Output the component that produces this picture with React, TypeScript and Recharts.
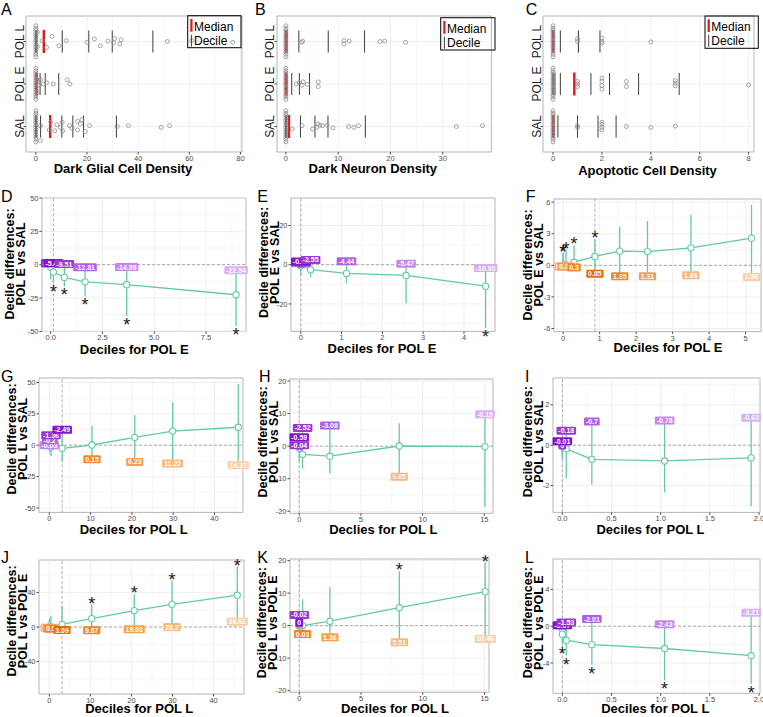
import React from "react";
import {
  ComposedChart,
  ScatterChart,
  Scatter,
  XAxis,
  YAxis,
  ReferenceLine,
  ReferenceArea,
  ErrorBar
} from "recharts";

const FONT = '"Liberation Sans", Arial, Helvetica, sans-serif';
const TEAL = "#64caa6";
const GRID = "#ebebeb";
const BORDER = "#b5b5b5";
const TICK = "#4d4d4d";
const RED = "#e3151b";
const PURPLES = ["#8414c9", "#9a38d6", "#b061e1", "#c588ea", "#d9aef2"];
const ORANGES = ["#e7690b", "#ef862b", "#f4a052", "#f7b87c", "#f9cfa6"];

// ---------- top row: raw densities, points are [value, vertical jitter] ----------
const GROUPS = ["SAL", "POL E", "POL L"];
const ZERO_JIT = [0.37, 0.31, 0.26, 0.2, 0.14, 0.09, 0.03, -0.02, -0.08, -0.13, -0.19, -0.25, -0.3, -0.36];

const glialPolL = [[0.6, 0.22], [0.6, -0.12], [2.5, 0.02], [4.2, -0.14], [6.3, 0.12], [9, -0.1], [11.9, 0.02], [20, -0.02], [22.9, 0.06], [25.2, -0.1], [28.2, 0.01], [30.4, -0.03], [30.8, 0.07], [32.8, -0.06], [33.3, 0.04], [51.4, 0], [61, 0.02], [77, -0.02]];
const glialPolE = [[0.5, 0.1], [0.6, -0.2], [1.3, -0.03], [1.8, 0.1], [2.9, 0], [4.2, 0.03], [6.8, 0], [12.3, 0.1], [13.3, 0]];
const glialSal = [[1.8, 0.02], [1.8, -0.33], [5.2, -0.08], [5.8, 0.1], [7.4, -0.1], [8.2, 0.04], [9.6, -0.02], [10.3, 0.1], [10.5, -0.1], [13.2, 0.02], [14.1, -0.04], [16.3, 0.12], [16.3, -0.08], [17.4, 0.06], [18, 0.16], [19.3, -0.12], [21, 0.02], [31.8, 0], [36.2, 0.02], [49, -0.02], [52.3, 0.02]];

const neuronPolL = [[3.0, -0.02], [3.2, 0.01], [11.1, 0.02], [11.1, -0.06], [12.1, 0.01], [18, 0], [18.9, 0.01], [22.9, -0.02]];
const neuronPolE = [[2.0, 0], [2.55, 0.03], [3.1, -0.03], [3.3, 0.05], [4.1, -0.01], [6.2, 0.05], [6.2, -0.06]];
const neuronSal = [[1.2, -0.06], [3.1, 0.02], [5.1, -0.06], [5.9, -0.02], [6.1, 0.06], [6.5, 0.03], [7.0, 0.02], [7.9, 0.03], [9.0, -0.03], [12.0, 0], [13.0, -0.02], [13.9, 0.02], [32.6, 0], [37.6, 0.02]];

const apoPolL = [[1, 0], [1, 0.06], [2, 0.08], [2, 0], [2, -0.04], [4, -0.01]];
const apoPolE = [[1, 0.06], [1, 0], [1, -0.06], [2, 0.14], [2, 0.06], [2, -0.04], [2, -0.12], [3, 0.06], [3, -0.06], [5, 0.08], [5, 0.02], [5, -0.04], [8, -0.02]];
const apoSal = [[1, 0.02], [1, -0.02], [2, 0.1], [2, 0.05], [2, -0.02], [2, -0.08], [3, 0], [4, -0.02], [5, 0.01]];

// deciles 1..9 per group
const glialDecPolL = [0, 0, 0.1, 0.4, 3.11, 10.33, 20.69, 29.87, 45.76];
const glialDecPolE = [0, 0, 0, 0, 0.13, 0.66, 1.66, 3.67, 8.95];
const glialDecSal = [0, 0.02, 0.2, 1.86, 5.6, 10.17, 14.47, 18.65, 31.49];
const neuronDecPolL = [0, 0, 0, 0, 0, 0.27, 2.48, 8.1, 15.05];
const neuronDecPolE = [0, 0, 0, 0, 0, 0.24, 1.12, 2.58, 4.53];
const neuronDecSal = [0, 0, 0, 0.04, 0.59, 2.79, 5.56, 8.05, 15.2];
const apoDecPolL = [0, 0, 0, 0, 0, 0.04, 0.3, 1.04, 1.92];
const apoDecPolE = [0, 0, 0.08, 0.3, 0.87, 1.55, 2.31, 3.5, 5.16];
const apoDecSal = [0, 0, 0, 0, 0.02, 0.2, 1.0, 1.84, 2.58];

// ---------- decile differences with CI (lo, hi) and significance ----------
const glialEvSDiff = [0, -0.02, -0.2, -1.86, -5.47, -9.51, -12.81, -14.98, -22.54];
const glialEvSLo = [-1, -1.5, -3, -11, -13.5, -16.2, -23.7, -38.7, -46.2];
const glialEvSHi = [0.8, 0.8, 1.0, 1.2, 1.2, 0.5, -2, -1.8, -4.2];
const glialEvSSig = [0, 0, 0, 0, 1, 1, 1, 1, 1];

const neuronEvSDiff = [0, 0, 0, -0.04, -0.59, -2.55, -4.44, -5.47, -10.93];
const neuronEvSLo = [-0.5, -0.5, -1, -3, -5.4, -6.4, -9.5, -19.7, -32.3];
const neuronEvSHi = [0.3, 0.3, 0.5, 1.0, 1.6, 2.4, 1.7, 0.5, -1.7];
const neuronEvSSig = [0, 0, 0, 0, 0, 0, 0, 0, 1];

const apoEvSDiff = [0.01, 0.02, 0.04, 0.3, 0.85, 1.35, 1.31, 1.66, 2.58];
const apoEvSLo = [-0.1, -0.1, -0.1, -0.2, -0.8, -1.04, -1.04, -0.95, -1.1];
const apoEvSHi = [1.2, 1.2, 1.5, 1.9, 2.46, 3.7, 4.2, 4.8, 5.75];
const apoEvSSig = [1, 1, 1, 1, 1, 0, 0, 0, 0];

const glialLvSDiff = [0, -0.03, -0.2, -1.36, -2.49, 0.15, 6.23, 11.22, 14.27];
const glialLvSLo = [-1, -3, -6, -8.8, -12.5, -11.1, -13.3, -14.6, -15.9];
const glialLvSHi = [0, 0, 4, 8, 12.2, 15.4, 23.9, 34, 48.6];
const glialLvSSig = [0, 0, 0, 0, 0, 0, 0, 0, 0];

const neuronLvSDiff = [0, 0, 0, -0.04, -0.59, -2.52, -3.08, 0.05, -0.15];
const neuronLvSLo = [-0.5, -0.5, -1, -2, -4.5, -6.9, -8.4, -9.4, -18.7];
const neuronLvSHi = [0.1, 0.1, 0.2, 0.3, 2.7, 5.6, 6.3, 7, 9.8];
const neuronLvSSig = [0, 0, 0, 0, 0, 0, 0, 0, 0];

const apoLvSDiff = [0, 0, 0, 0, -0.01, -0.18, -0.7, -0.78, -0.63];
const apoLvSLo = [-0.2, -0.2, -0.3, -0.5, -0.7, -1.63, -1.96, -2.34, -3.03];
const apoLvSHi = [0, 0, 0, 0, 0.2, 0.72, 1.17, 1.22, 1.36];
const apoLvSSig = [0, 0, 0, 0, 0, 0, 0, 0, 0];

const glialLvEDiff = [0.01, 0.02, 0.1, 0.5, 3.09, 9.67, 19.03, 26.2, 36.81];
const glialLvELo = [-1, -1, -1.5, -2, -3.5, -3.8, -2.7, 0, 6.1];
const glialLvEHi = [5, 8, 10, 13, 24.4, 26, 37.8, 53.7, 69.6];
const glialLvESig = [0, 0, 0, 0, 0, 1, 1, 1, 1];

const neuronLvEDiff = [0, 0, 0, -0.02, 0, 0.03, 1.36, 5.51, 10.46];
const neuronLvELo = [-0.5, -0.5, -1, -1, -1.5, -2.6, -3.6, -5.1, -4.1];
const neuronLvEHi = [0.5, 0.5, 0.8, 3.3, 1, 8.1, 11.8, 16.7, 19.4];
const neuronLvESig = [0, 0, 0, 0, 0, 0, 0, 1, 1];

const apoLvEDiff = [0, 0, 0, -0.3, -0.87, -1.53, -2.01, -2.43, -3.21];
const apoLvELo = [-0.2, -0.2, -0.2, -1.0, -2.0, -3.2, -4.2, -5.9, -6.3];
const apoLvEHi = [0.1, 0.1, 0.1, 0.1, 0.1, 0.4, 0.77, 0.2, 1.45];
const apoLvESig = [0, 0, 0, 0, 1, 1, 1, 1, 1];

// ---------- layout ----------
const YW = 24;
const XH = 20;
const PT = 10;
const PR = 18;

const mids = (t: number[], dom: number[]) => {
  const step = t[1] - t[0];
  const out: number[] = [];
  for (let v = t[0] - step / 2; v <= dom[1]; v += step) if (v >= dom[0]) out.push(v);
  return out;
};

const fmtLab = (v: number) => String(Number(v.toFixed(2)));
const textW = (s: string) => {
  let w = 0;
  for (const c of s) w += c === "-" ? 0.333 : c === "." ? 0.278 : 0.556;
  return w;
};

const stripPanels = [
  {
    letter: "A", letterPos: [1, 15], box: [26, 16, 242, 152], xDomain: [-3.85, 80.6], xTicks: [0, 20, 40, 60, 80],
    title: "Dark Glial Cell Density", titlePos: [123, 173], legend: [187.7, 15.7, 53.3, 32],
    pts: [glialSal, glialPolE, glialPolL], decs: [glialDecSal, glialDecPolE, glialDecPolL]
  },
  {
    letter: "B", letterPos: [255, 15], box: [277.3, 16, 491.7, 152], xDomain: [-1.7, 39.3], xTicks: [0, 10, 20, 30],
    title: "Dark Neuron Density", titlePos: [372.8, 172.7], legend: [440.7, 17.7, 54.3, 32.3],
    pts: [neuronSal, neuronPolE, neuronPolL], decs: [neuronDecSal, neuronDecPolE, neuronDecPolL]
  },
  {
    letter: "C", letterPos: [525.7, 15], box: [543.3, 16, 754.3, 152], xDomain: [-0.41, 8.22], xTicks: [0, 2, 4, 6, 8],
    title: "Apoptotic Cell Density", titlePos: [647.5, 174.7], legend: [705, 16, 53.3, 32.3],
    pts: [apoSal, apoPolE, apoPolL], decs: [apoDecSal, apoDecPolE, apoDecPolL]
  }
];

const diffPanels = [
  { letter: "D", letterPos: [1, 201.7], box: [42, 198.3, 246, 331.7], xDomain: [-0.42, 9.43], xTicks: [0, 2.5, 5, 7.5], xDigits: 1, yDomain: [-50, 50], yTicks: [-50, -25, 0, 25, 50], yl: ["Decile differences:", "POL E vs SAL"], yTitle: [9.3, 20.7, 264], xl: "Deciles for POL E", xTitle: [134.3, 353.7], xs: glialDecPolE, diff: glialEvSDiff, lo: glialEvSLo, hi: glialEvSHi, sig: glialEvSSig },
  { letter: "E", letterPos: [257.3, 201.7], box: [291, 198.3, 495, 331.7], xDomain: [-0.24, 4.76], xTicks: [0, 1, 2, 3, 4], xDigits: 0, yDomain: [-34, 34], yTicks: [-20, 0, 20], yl: ["Decile differences:", "POL E vs SAL"], yTitle: [263.3, 274, 262.5], xl: "Deciles for POL E", xTitle: [382, 353], xs: neuronDecPolE, diff: neuronEvSDiff, lo: neuronEvSLo, hi: neuronEvSHi, sig: neuronEvSSig },
  { letter: "F", letterPos: [525.7, 201.7], box: [554, 199, 761, 331.7], xDomain: [-0.25, 5.42], xTicks: [0, 1, 2, 3, 4, 5], xDigits: 0, yDomain: [-6.3, 6.3], yTicks: [-6, -3, 0, 3, 6], yl: ["Decile differences:", "POL E vs SAL"], yTitle: [527.7, 538.3, 265], xl: "Deciles for POL E", xTitle: [668, 352.2], xs: apoDecPolE, diff: apoEvSDiff, lo: apoEvSLo, hi: apoEvSHi, sig: apoEvSSig },
  { letter: "G", letterPos: [1, 381.7], box: [39, 378.3, 243, 512.7], xDomain: [-2.5, 46.9], xTicks: [0, 10, 20, 30, 40], xDigits: 0, yDomain: [-53.5, 53.5], yTicks: [-50, -25, 0, 25, 50], yl: ["Decile differences:", "POL L vs SAL"], yTitle: [11.7, 22.7, 439], xl: "Deciles for POL L", xTitle: [133.7, 533.7], xs: glialDecPolL, diff: glialLvSDiff, lo: glialLvSLo, hi: glialLvSHi, sig: glialLvSSig },
  { letter: "H", letterPos: [259, 381.7], box: [290, 379, 493, 513.3], xDomain: [-0.75, 15.7], xTicks: [0, 5, 10, 15], xDigits: 0, yDomain: [-20.6, 20.6], yTicks: [-20, -10, 0, 10, 20], yl: ["Decile differences:", "POL L vs SAL"], yTitle: [262.7, 273.3, 442], xl: "Declies for POL L", xTitle: [383.3, 533.7], xs: neuronDecPolL, diff: neuronLvSDiff, lo: neuronLvSLo, hi: neuronLvSHi, sig: neuronLvSSig },
  { letter: "I", letterPos: [525, 381.7], box: [553, 378.3, 760, 512.7], xDomain: [-0.095, 2.01], xTicks: [0, 0.5, 1, 1.5, 2], xDigits: 1, yDomain: [-3.33, 3.33], yTicks: [-2, 0, 2], yl: ["Decile differences:", "POL L vs SAL"], yTitle: [527.7, 538.3, 441.7], xl: "Deciles for POL L", xTitle: [650.5, 533.7], xs: apoDecPolL, diff: apoLvSDiff, lo: apoLvSLo, hi: apoLvSHi, sig: apoLvSSig },
  { letter: "J", letterPos: [1, 563], box: [39, 559.7, 244, 693.7], xDomain: [-2.5, 47.4], xTicks: [0, 10, 20, 30, 40], xDigits: 0, yDomain: [-77.5, 77.5], yTicks: [-40, 0, 40], yl: ["Decile differences:", "POL L vs POL E"], yTitle: [11.7, 22.7, 621], xl: "Deciles for POL L", xTitle: [139.2, 712.5], xs: glialDecPolL, diff: glialLvEDiff, lo: glialLvELo, hi: glialLvEHi, sig: glialLvESig },
  { letter: "K", letterPos: [257.3, 563], box: [290, 558.7, 489, 692], xDomain: [-0.75, 15.36], xTicks: [0, 5, 10, 15], xDigits: 0, yDomain: [-20.5, 20.5], yTicks: [-20, -10, 0, 10, 20], yl: ["Decile differences:", "POL L vs POL E"], yTitle: [261.7, 272.7, 622.7], xl: "Deciles for POL L", xTitle: [395, 712.5], xs: neuronDecPolL, diff: neuronLvEDiff, lo: neuronLvELo, hi: neuronLvEHi, sig: neuronLvESig },
  { letter: "L", letterPos: [525, 563], box: [553, 558.7, 760, 693], xDomain: [-0.095, 2.01], xTicks: [0, 0.5, 1, 1.5, 2], xDigits: 1, yDomain: [-7.3, 7.3], yTicks: [-4, 0, 4], yl: ["Decile differences:", "POL L vs POL E"], yTitle: [527.7, 538.3, 622.7], xl: "Deciles for POL L", xTitle: [655.3, 712.5], xs: apoDecPolL, diff: apoLvEDiff, lo: apoLvELo, hi: apoLvEHi, sig: apoLvESig }
];

// ---------- shapes ----------
const OpenCircle = (p: any) => (
  <circle cx={p.cx} cy={p.cy} r={2} fill="none" stroke="#8f8f8f" strokeWidth={0.8} />
);

const DecilePoint = (p: any) => (
  <circle cx={p.cx} cy={p.cy} r={3.1} fill="#fff" stroke={TEAL} strokeWidth={1.1} />
);

const GroupTick = (p: any) => {
  const x = p.x - 2;
  const label = GROUPS[Math.round(p.payload.value) - 1];
  return (
    <text x={x} y={p.y} transform={`rotate(-90 ${x} ${p.y})`} textAnchor="middle" dominantBaseline="central"
      fontSize={12} fontFamily={FONT} fill="#1a1a1a">{label}</text>
  );
};

const LabelShape = (p: any) => {
  const { cx, cy, payload } = p;
  if (cx == null || cy == null || !payload) return <g />;
  const txt = fmtLab(payload.d);
  const fs = 7;
  const w = textW(txt) * fs + 3.6;
  const h = 8;
  const col = payload.d > 0 ? ORANGES[payload.shade] : PURPLES[payload.shade];
  return (
    <g>
      <rect x={cx - w / 2} y={cy - h / 2} width={w} height={h} rx={1.2} fill={col} />
      <text x={cx} y={cy + 2.5} textAnchor="middle" fontSize={fs} fontWeight="bold" fill="#fff" fontFamily={FONT}>{txt}</text>
    </g>
  );
};

const StarShape = (p: any) => {
  const { cx, cy, payload } = p;
  if (cx == null || cy == null || !payload || !payload.sig) return <g />;
  const up = payload.d > 0;
  return (
    <text x={cx} y={up ? cy + 5 : cy + 15} textAnchor="middle" fontSize={18} fill="#1a1a1a" fontFamily={FONT}>*</text>
  );
};

const gridLines = (xd: number[], xt: number[], yd: number[], yt: number[], yMinor: boolean) => {
  const out: any[] = [];
  mids(xt, xd).forEach((v, i) => out.push(<ReferenceLine key={"xm" + i} x={v} stroke={GRID} strokeWidth={0.5} />));
  xt.forEach((v, i) => out.push(<ReferenceLine key={"xM" + i} x={v} stroke={GRID} strokeWidth={0.8} />));
  if (yMinor) mids(yt, yd).forEach((v, i) => out.push(<ReferenceLine key={"ym" + i} y={v} stroke={GRID} strokeWidth={0.5} />));
  yt.forEach((v, i) => out.push(<ReferenceLine key={"yM" + i} y={v} stroke={GRID} strokeWidth={0.8} />));
  return out;
};

// ---------- panels ----------
function StripPanel({ p }: { p: any }) {
  const [l, t, r, b] = p.box;
  const pts: any[] = [];
  p.pts.forEach((grp: number[][], gi: number) => {
    ZERO_JIT.forEach((j) => pts.push({ x: 0, y: gi + 1 + j }));
    grp.forEach(([x, j]) => pts.push({ x, y: gi + 1 + j }));
  });
  const yd = [0.4, 3.6];
  const segs: any[] = [];
  p.decs.forEach((dec: number[], gi: number) => {
    dec.forEach((d, i) => {
      if (i === 4) return;
      segs.push(
        <ReferenceLine key={`d${gi}-${i}`} segment={[{ x: d, y: gi + 1 - 0.26 }, { x: d, y: gi + 1 + 0.26 }]}
          stroke="#3d3d3d" strokeWidth={1} ifOverflow="visible" />
      );
    });
  });
  p.decs.forEach((dec: number[], gi: number) => {
    segs.push(
      <ReferenceLine key={`m${gi}`} segment={[{ x: dec[4], y: gi + 1 - 0.27 }, { x: dec[4], y: gi + 1 + 0.27 }]}
        stroke={RED} strokeWidth={2.4} ifOverflow="visible" />
    );
  });
  return (
    <div style={{ position: "absolute", left: l - YW, top: t - PT }}>
      <ScatterChart width={r - l + YW + PR} height={b - t + PT + XH} margin={{ top: PT, right: PR, bottom: 0, left: 0 }}>
        {gridLines(p.xDomain, p.xTicks, yd, [1, 2, 3], false)}
        <XAxis type="number" dataKey="x" domain={p.xDomain} ticks={p.xTicks} interval={0}
          height={XH} tickSize={2.5} tickMargin={1} axisLine={false} tickLine={{ stroke: TICK }}
          tick={{ fontSize: 7.5, fill: TICK, fontFamily: FONT }} />
        <YAxis type="number" dataKey="y" domain={yd} ticks={[1, 2, 3]} interval={0}
          width={YW} tickSize={2.5} axisLine={false} tickLine={{ stroke: TICK }} tick={<GroupTick />} />
        <ReferenceArea x1={p.xDomain[0]} x2={p.xDomain[1]} y1={yd[0]} y2={yd[1]} fill="none" stroke={BORDER}
          strokeWidth={1} ifOverflow="visible" />
        <Scatter data={pts} shape={OpenCircle} isAnimationActive={false} />
        {segs}
      </ScatterChart>
    </div>
  );
}

function DiffPanel({ p }: { p: any }) {
  const [l, t, r, b] = p.box;
  const rows = p.xs.map((x: number, i: number) => {
    const d = p.diff[i];
    return {
      x,
      d,
      err: [d - p.lo[i], p.hi[i] - d],
      ly: d > 0 ? p.lo[i] : p.hi[i],
      sy: d > 0 ? p.hi[i] : p.lo[i],
      sig: p.sig[i],
      shade: Math.abs(i - 4)
    };
  });
  const fx = (v: number) => (p.xDigits ? v.toFixed(p.xDigits) : String(v));
  return (
    <div style={{ position: "absolute", left: l - YW, top: t - PT }}>
      <ComposedChart width={r - l + YW + PR} height={b - t + PT + XH} data={rows}
        margin={{ top: PT, right: PR, bottom: 0, left: 0 }}>
        {gridLines(p.xDomain, p.xTicks, p.yDomain, p.yTicks, true)}
        <XAxis type="number" dataKey="x" domain={p.xDomain} ticks={p.xTicks} interval={0}
          tickFormatter={fx} height={XH} tickSize={2.5} tickMargin={1} axisLine={false}
          tickLine={{ stroke: TICK }} tick={{ fontSize: 7.5, fill: TICK, fontFamily: FONT }} />
        <YAxis type="number" domain={p.yDomain} ticks={p.yTicks} interval={0} width={YW}
          tickSize={2.5} tickMargin={1} axisLine={false} tickLine={{ stroke: TICK }}
          tick={{ fontSize: 7.5, fill: TICK, fontFamily: FONT }} />
        <ReferenceArea x1={p.xDomain[0]} x2={p.xDomain[1]} y1={p.yDomain[0]} y2={p.yDomain[1]} fill="none"
          stroke={BORDER} strokeWidth={1} ifOverflow="visible" />
        <ReferenceLine y={0} stroke="#8a8a8a" strokeDasharray="3 2" strokeWidth={0.7} />
        <ReferenceLine x={p.xs[4]} stroke="#8a8a8a" strokeDasharray="3 2" strokeWidth={0.7} />
        <Scatter dataKey="d" shape={DecilePoint} line={{ stroke: TEAL, strokeWidth: 1.3 }} lineJointType="linear"
          isAnimationActive={false}>
          <ErrorBar dataKey="err" direction="y" width={0} stroke={TEAL} strokeWidth={1.3} isAnimationActive={false} />
        </Scatter>
        <Scatter dataKey="ly" shape={LabelShape} isAnimationActive={false} />
        <Scatter dataKey="sy" shape={StarShape} isAnimationActive={false} />
      </ComposedChart>
    </div>
  );
}

function Overlay() {
  const all: any[] = [...stripPanels, ...diffPanels];
  return (
    <svg width={763} height={717} style={{ position: "absolute", left: 0, top: 0, pointerEvents: "none" }}>
      {all.map((p) => (
        <text key={"L" + p.letter} x={p.letterPos[0]} y={p.letterPos[1]} fontSize={16} fontFamily={FONT} fill="#000">
          {p.letter}
        </text>
      ))}
      {stripPanels.map((p) => (
        <text key={"T" + p.letter} x={p.titlePos[0]} y={p.titlePos[1]} textAnchor="middle" fontSize={13}
          fontWeight="bold" fontFamily={FONT} fill="#000">{p.title}</text>
      ))}
      {stripPanels.map((p) => {
        const [lx, ly, w, h] = p.legend;
        return (
          <g key={"G" + p.letter}>
            <rect x={lx} y={ly} width={w} height={h} fill="none" stroke="#000" strokeWidth={1} />
            <rect x={lx + 2.6} y={ly + 3.3} width={2.2} height={12.7} fill={RED} />
            <text x={lx + 6.3} y={ly + 15} fontSize={12} fontFamily={FONT} fill="#000">Median</text>
            <rect x={lx + 3.2} y={ly + 19} width={1} height={12} fill="#3d3d3d" />
            <text x={lx + 6.3} y={ly + 29.3} fontSize={12} fontFamily={FONT} fill="#000">Decile</text>
          </g>
        );
      })}
      {diffPanels.map((p) => (
        <text key={"X" + p.letter} x={p.xTitle[0]} y={p.xTitle[1]} textAnchor="middle" fontSize={13}
          fontWeight="bold" fontFamily={FONT} fill="#000">{p.xl}</text>
      ))}
      {diffPanels.map((p) => {
        const [x1, x2, cy] = p.yTitle;
        const b1 = x1 + 4.5;
        const b2 = x2 + 4.5;
        return (
          <g key={"Y" + p.letter}>
            <text x={b1} y={cy} transform={`rotate(-90 ${b1} ${cy})`} textAnchor="middle" fontSize={12.5}
              fontWeight="bold" fontFamily={FONT} fill="#000">{p.yl[0]}</text>
            <text x={b2} y={cy} transform={`rotate(-90 ${b2} ${cy})`} textAnchor="middle" fontSize={12.5}
              fontWeight="bold" fontFamily={FONT} fill="#000">{p.yl[1]}</text>
          </g>
        );
      })}
    </svg>
  );
}

export default function App() {
  return (
    <div style={{ position: "absolute", left: 0, top: 0, width: 763, height: 717, overflow: "hidden", background: "#fff", fontFamily: FONT }}>
      {stripPanels.map((p) => <StripPanel key={p.letter} p={p} />)}
      {diffPanels.map((p) => <DiffPanel key={p.letter} p={p} />)}
      <Overlay />
    </div>
  );
}
